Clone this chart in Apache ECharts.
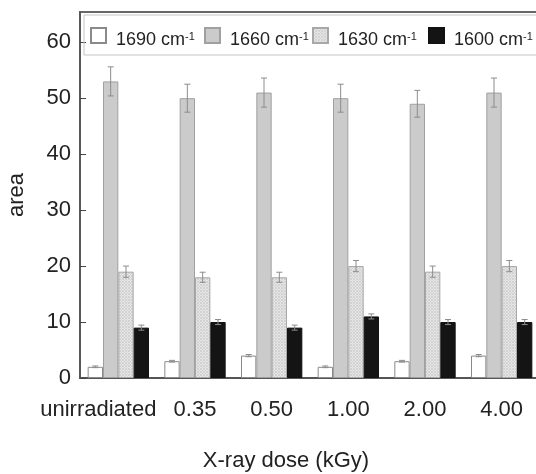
<!DOCTYPE html>
<html>
<head>
<meta charset="utf-8">
<script src="https://cdn.jsdelivr.net/npm/echarts@6/dist/echarts.min.js"></script>
<style>html,body{margin:0;padding:0;background:#fff}#c{width:536px;height:474px}</style>
</head>
<body>
<div id="c"></div>
<script>
var categories = ['unirradiated', '0.35', '0.50', '1.00', '2.00', '4.00'];
var seriesNames = ['1690', '1660', '1630', '1600'];
var v1690 = [2, 3, 4, 2, 3, 4];
var e1690 = [0.15, 0.15, 0.2, 0.15, 0.15, 0.2];
var v1660 = [53, 50, 51, 50, 49, 51];
var e1660 = [2.6, 2.5, 2.6, 2.5, 2.4, 2.6];
var v1630 = [19, 18, 18, 20, 19, 20];
var e1630 = [1.0, 0.9, 0.9, 1.0, 1.0, 1.0];
var v1600 = [9, 10, 9, 11, 10, 10];
var e1600 = [0.45, 0.45, 0.45, 0.45, 0.45, 0.45];
var yTicks = [0, 10, 20, 30, 40, 50, 60];

var values = [v1690, v1660, v1630, v1600];
var errors = [e1690, e1660, e1630, e1600];

// fine crosshatch texture for the 1630 series
var pc = document.createElement('canvas');
pc.width = 3; pc.height = 3;
var px = pc.getContext('2d');
px.fillStyle = '#e6e6e6'; px.fillRect(0, 0, 3, 3);
px.fillStyle = '#d2d2d2';
px.fillRect(0, 0, 1, 1); px.fillRect(1, 1, 1, 1); px.fillRect(2, 2, 1, 1);
px.fillRect(2, 0, 1, 1); px.fillRect(0, 2, 1, 1);

var styles = [
  {color: '#ffffff', borderColor: '#8a8a8a', borderWidth: 1},
  {color: '#cbcbcb', borderColor: '#a0a0a0', borderWidth: 1},
  {color: {image: pc, repeat: 'repeat'}, borderColor: '#a8a8a8', borderWidth: 1},
  {color: '#141414', borderColor: '#111111', borderWidth: 1}
];
var BW = 0.2;

var series = [];
seriesNames.forEach(function (n, k) {
  series.push({
    name: n, type: 'bar', data: values[k], barWidth: (BW * 100) + '%', barGap: '0%',
    itemStyle: styles[k], emphasis: {disabled: true}
  });
});
seriesNames.forEach(function (n, k) {
  var d = values[k].map(function (v, i) { return [i, v - errors[k][i], v + errors[k][i]]; });
  series.push({
    type: 'custom', data: d, z: 5, silent: true,
    renderItem: function (params, api) {
      var i = api.value(0);
      var lo = api.coord([i, api.value(1)]);
      var hi = api.coord([i, api.value(2)]);
      var band = api.size([1, 0])[0];
      var x = lo[0] + (k - 1.5) * BW * band;
      var cw = 3;
      var st = {stroke: '#8c8c8c', lineWidth: 1};
      return {type: 'group', children: [
        {type: 'line', shape: {x1: x, y1: lo[1], x2: x, y2: hi[1]}, style: st},
        {type: 'line', shape: {x1: x - cw, y1: hi[1], x2: x + cw, y2: hi[1]}, style: st},
        {type: 'line', shape: {x1: x - cw, y1: lo[1], x2: x + cw, y2: lo[1]}, style: st}
      ]};
    }
  });
});

var legendLefts = [90, 204, 312, 428];
var legends = seriesNames.map(function (n, k) {
  return {
    data: [n], left: legendLefts[k], top: 27, padding: 0, itemWidth: 15, itemHeight: 15,
    icon: 'rect', selectedMode: false,
    formatter: function (name) { return name + ' cm{sup|-1}'; },
    textStyle: {fontSize: 18, color: '#222', fontFamily: 'Liberation Sans', padding: [10, 0, 0, 5],
      rich: {sup: {fontSize: 11, verticalAlign: 'top', color: '#222', fontFamily: 'Liberation Sans'}}}
  };
});

var chart = echarts.init(document.getElementById('c'), null, {renderer: 'canvas'});
chart.setOption({
  animation: false,
  backgroundColor: '#ffffff',
  textStyle: {fontFamily: 'Liberation Sans'},
  grid: {left: 80, top: 12, width: 460, height: 366, show: true, borderColor: '#666', borderWidth: 2,
    containLabel: false, outerBoundsMode: 'none'},
  legend: legends,
  graphic: [{type: 'rect', shape: {x: 84, y: 15, width: 470, height: 40}, style: {fill: 'none', stroke: '#c4c4c4', lineWidth: 1}, z: 1}],
  xAxis: {
    type: 'category', data: categories,
    name: 'X-ray dose (kGy)', nameLocation: 'middle', nameGap: 72,
    nameTextStyle: {fontSize: 22, color: '#222', padding: [0, 48, 0, 0]},
    axisLine: {lineStyle: {color: '#555', width: 2}},
    axisTick: {show: false},
    axisLabel: {fontSize: 22, color: '#222', margin: 21, interval: 0,
      formatter: function (v, i) { return i === 0 ? '{first|' + v + '}' : v; },
      rich: {first: {fontSize: 22, color: '#222', padding: [0, 40, 0, 0]}}}
  },
  yAxis: {
    type: 'value', min: 0, max: 65.4, interval: 10,
    name: 'area', nameLocation: 'middle', nameGap: 52, nameRotate: 90,
    nameTextStyle: {fontSize: 22, color: '#222'},
    axisLine: {show: true, lineStyle: {color: '#555', width: 1.5}},
    axisTick: {show: true, inside: true, length: 6, lineStyle: {color: '#444'}},
    splitLine: {show: false},
    axisLabel: {fontSize: 22, color: '#222', margin: 9, showMaxLabel: false,
      formatter: function (v) { return yTicks.indexOf(v) >= 0 ? String(v) : ''; }}
  },
  series: series
});
</script>
</body>
</html>
